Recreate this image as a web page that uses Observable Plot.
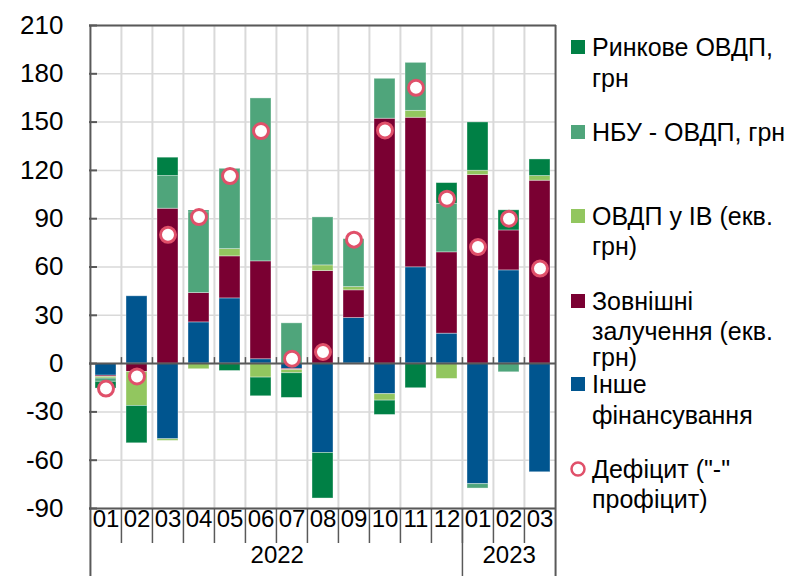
<!DOCTYPE html>
<html><head><meta charset="utf-8">
<script src="https://cdn.jsdelivr.net/npm/d3@7"></script>
<script src="https://cdn.jsdelivr.net/npm/@observablehq/plot@0.6"></script>
<style>
body{margin:0;background:#fff;font-family:Arial,"Liberation Sans",sans-serif;}
#wrap{position:relative;width:799px;height:576px;overflow:hidden;}
#wrap svg{position:absolute;left:0;top:0;}
.lg{position:absolute;left:592px;height:30px;line-height:30px;font-size:25px;color:#000;white-space:nowrap;}
.sw{position:absolute;left:571px;width:14px;height:14px;}
</style></head><body><div id="wrap"></div>
<script>
const months = ["01","02","03","04","05","06","07","08","09","10","11","12","01","02","03"];
const years = ["2022","2022","2022","2022","2022","2022","2022","2022","2022","2022","2022","2022","2023","2023","2023"];
const yTicks = [-90,-60,-30,0,30,60,90,120,150,180,210];
const seriesNames = ["Інше фінансування","Зовнішні залучення (екв. грн)","ОВДП у ІВ (екв. грн)","НБУ - ОВДП, грн","Ринкове ОВДП, грн"];
const seriesColors = ["#00558F","#7A0032","#92C65F","#4FA57B","#008045"];
const inshe     = [-7.5, 41.8, -47, 25.6, 40.5, 2.7, -3.3, -55.5, 28.3, -19, 59.8, 18.6, -74.9, 57.9, -67.5];
const zovnishni = [-0.8, -5.2, 96.2, 18.2, 26.1, 60.8, -0.7, 57.5, 17.2, 152.1, 92.9, 50.5, 117.1, 24.8, 113.6];
const ovdpIV    = [-1, -21.1, -1, -3.5, 4.5, -8.7, -2, 3.5, 2, -4, 4.3, -9.5, 2.7, 0, 2.9];
const nbu       = [-2, 0, 20.3, 50.2, 49.9, 101.2, 25, 29.8, 29.8, 24.8, 29.8, 30.2, -2.7, -5.4, 0];
const rynkove   = [-4.2, -23.2, 11.4, 1, -4.6, -11.6, -15.3, -28.3, -0.5, -8.9, -15.3, 12.8, 30, 12.5, 10.3];
const deficit   = [-15.5, -8, 80, 91, 116.5, 144.4, 3, 7.2, 77, 144.8, 171.3, 102.4, 72.4, 90, 59];
const deficitName = "Дефіцит (\"-\" профіцит)";
const deficitColor = "#E0506A";

// legend text lines per entry (order as in reference legend)
const legendLines = [
  ["Ринкове ОВДП,", "грн"],
  ["НБУ - ОВДП, грн"],
  ["ОВДП у ІВ (екв.", "грн)"],
  ["Зовнішні", "залучення (екв.", "грн)"],
  ["Інше", "фінансування"],
  ["Дефіцит (\"-\"", "профіцит)"]
];

const W = 799, H = 576, mL = 89, mR = 243, mT = 25, mB = 68;
const plotW = W - mL - mR, plotH = H - mT - mB;
const n = months.length;
const step = plotW / n;
const grid = "#d9d9d9", axisCol = "#595959";

const keys = months.map((m, i) => years[i] + "-" + m);
const seriesValues = [inshe, zovnishni, ovdpIV, nbu, rynkove];
const stacked = seriesNames.flatMap((s, j) => seriesValues[j].map((v, i) => ({key: keys[i], series: s, value: v})));
const defData = deficit.map((v, i) => ({key: keys[i], value: v}));
const yearGroups = d3.groups(keys.map((k, i) => ({k, y: years[i]})), d => d.y)
  .map(([y, arr]) => ({year: y, first: arr[0].k, count: arr.length}));
const yearStarts = keys.filter((k, i) => i > 0 && years[i] !== years[i - 1]);

const chart = Plot.plot({
  width: W, height: H, marginLeft: mL, marginRight: mR, marginTop: mT, marginBottom: mB,
  style: {fontFamily: "Arial, 'Liberation Sans', sans-serif", fontSize: "24px", color: "#000", background: "transparent"},
  x: {type: "band", domain: keys, paddingInner: 0.335, paddingOuter: 0.1675, axis: null},
  y: {domain: [-90, 210], axis: null},
  color: {domain: seriesNames, range: seriesColors},
  marks: [
    Plot.ruleY(yTicks, {stroke: grid, strokeWidth: 1.5}),
    Plot.ruleX(keys.slice(1), {x: d => d, dx: -step / 2, stroke: grid, strokeWidth: 2}),
    Plot.barY(stacked, {x: "key", y: "value", fill: "series", order: seriesNames, stroke: "#ffffff", strokeWidth: 0.8, strokeOpacity: 0.45}),
    Plot.ruleY([0], {stroke: axisCol, strokeWidth: 2}),
    Plot.ruleX(keys.slice(1), {x: d => d, y1: () => 0, y2: () => 0, dx: -step / 2, insetTop: -6, stroke: axisCol, strokeWidth: 1.5}),
    Plot.ruleY(yTicks, {insetRight: plotW - 8, stroke: axisCol, strokeWidth: 2}),
    Plot.ruleY([210, -90], {stroke: axisCol, strokeWidth: 2}),
    Plot.ruleX([keys[0]], {x: d => d, dx: -step / 2, insetBottom: -mB, stroke: axisCol, strokeWidth: 2}),
    Plot.ruleX([keys[n - 1]], {x: d => d, dx: step / 2, insetBottom: -mB, stroke: axisCol, strokeWidth: 2}),
    Plot.ruleX(yearStarts, {x: d => d, dx: -step / 2, insetTop: plotH, insetBottom: -mB, stroke: axisCol, strokeWidth: 1.5}),
    Plot.ruleX(keys.slice(1), {x: d => d, dx: -step / 2, insetTop: plotH, insetBottom: -35, stroke: axisCol, strokeWidth: 1.5}),
    Plot.dot(defData, {x: "key", y: "value", r: 7.5, fill: "white", stroke: deficitColor, strokeWidth: 3}),
    Plot.axisY(yTicks, {tickSize: 0, tickPadding: 26, fontSize: 26, fill: "#000", label: null, tickFormat: d => String(d)}),
    Plot.text(keys, {x: d => d, text: (d, i) => months[i], frameAnchor: "bottom", dy: 18, fontSize: 24, fill: "#000"}),
    ...yearGroups.map(g => Plot.text([g], {x: "first", text: "year", dx: (g.count - 1) * step / 2, frameAnchor: "bottom", dy: 54, fontSize: 24, fill: "#000"}))
  ]
});
const wrap = document.getElementById("wrap");
wrap.appendChild(chart);

// legend (HTML overlay on the right)
const legendColors = [seriesColors[4], seriesColors[3], seriesColors[2], seriesColors[1], seriesColors[0], null];
const lineCenters = [[47, 78], [132], [216, 246], [301, 331, 357], [384, 415], [469, 499]];
legendLines.forEach((lines, e) => {
  const c0 = lineCenters[e][0];
  if (legendColors[e]) {
    const sw = document.createElement("div");
    sw.className = "sw";
    sw.style.top = (c0 - 7) + "px";
    sw.style.background = legendColors[e];
    wrap.appendChild(sw);
  } else {
    const ns = "http://www.w3.org/2000/svg";
    const s = document.createElementNS(ns, "svg");
    s.setAttribute("width", 18); s.setAttribute("height", 18);
    s.style.position = "absolute"; s.style.left = "569px"; s.style.top = (c0 - 9) + "px";
    const ci = document.createElementNS(ns, "circle");
    ci.setAttribute("cx", 9); ci.setAttribute("cy", 9); ci.setAttribute("r", 6.5);
    ci.setAttribute("fill", "white"); ci.setAttribute("stroke", deficitColor); ci.setAttribute("stroke-width", 2.5);
    s.appendChild(ci);
    wrap.appendChild(s);
  }
  lines.forEach((t, j) => {
    const d = document.createElement("div");
    d.className = "lg";
    d.style.top = (lineCenters[e][j] - 15) + "px";
    d.textContent = t;
    wrap.appendChild(d);
  });
});
</script></body></html>
